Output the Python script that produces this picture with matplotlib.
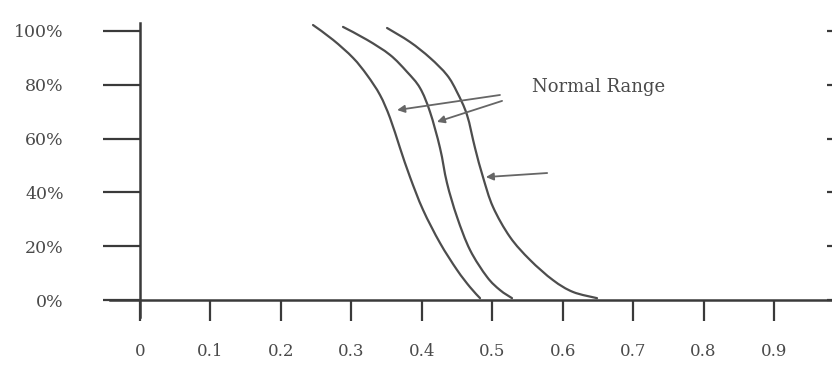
import matplotlib
matplotlib.use("Agg")
import matplotlib.pyplot as plt
from matplotlib.path import Path
from matplotlib.patches import PathPatch

# ---- data ----
x_ticks = [0, 0.1, 0.2, 0.3, 0.4, 0.5, 0.6, 0.7, 0.8, 0.9]
x_tick_labels = ["0", "0.1", "0.2", "0.3", "0.4", "0.5", "0.6", "0.7", "0.8", "0.9"]
y_ticks = [0, 20, 40, 60, 80, 100]
y_tick_labels = ["0%", "20%", "40%", "60%", "80%", "100%"]

curve1_x = [0.2456, 0.2740, 0.3024, 0.3223, 0.3407, 0.3549, 0.3691, 0.3833,
            0.4018, 0.4259, 0.4500, 0.4685, 0.4827]
curve1_y = [102.2, 96.7, 90.0, 83.6, 76.2, 67.7, 56.5, 45.7, 33.5, 21.2, 11.2, 4.8, 0.7]

curve2_x = [0.2882, 0.3223, 0.3549, 0.3790, 0.3975, 0.4117, 0.4259, 0.4358,
            0.4500, 0.4685, 0.4926, 0.5111, 0.5281]
curve2_y = [101.5, 96.7, 91.1, 84.8, 78.8, 69.9, 56.5, 43.5, 30.9, 18.6, 8.6, 3.7, 0.7]

curve3_x = [0.3507, 0.3833, 0.4117, 0.4358, 0.4500, 0.4642, 0.4756, 0.4869,
            0.5011, 0.5253, 0.5537, 0.5863, 0.6147, 0.6488]
curve3_y = [101.1, 95.9, 90.0, 83.6, 77.3, 68.8, 56.5, 45.7, 34.6, 23.4, 14.9, 7.4, 3.0, 0.7]

annotation_text = "Normal Range"

plt.rcParams["font.family"] = ["DejaVu Serif"]

fig = plt.figure(figsize=(8.32, 3.70), dpi=100)
ax = fig.add_axes([0, 0, 1, 1])
ax.set_xlim(-0.1988, 0.9824)
ax.set_ylim(-26.0, 111.5)

line_col = "#4d4d4d"
axis_col = "#3a3a3a"
text_col = "#4a4a4a"


def smooth_path(xs, ys):
    """Catmull-Rom spline through the read points, as cubic Bezier segments."""
    pts = list(zip(xs, ys))
    verts = [pts[0]]
    codes = [Path.MOVETO]
    n = len(pts)
    for i in range(n - 1):
        p0 = pts[i - 1] if i > 0 else pts[i]
        p1 = pts[i]
        p2 = pts[i + 1]
        p3 = pts[i + 2] if i + 2 < n else pts[i + 1]
        c1 = (p1[0] + (p2[0] - p0[0]) / 6.0, p1[1] + (p2[1] - p0[1]) / 6.0)
        c2 = (p2[0] - (p3[0] - p1[0]) / 6.0, p2[1] - (p3[1] - p1[1]) / 6.0)
        verts += [c1, c2, p2]
        codes += [Path.CURVE4] * 3
    return Path(verts, codes)


for xs, ys in [(curve1_x, curve1_y), (curve2_x, curve2_y), (curve3_x, curve3_y)]:
    ax.add_patch(PathPatch(smooth_path(xs, ys), facecolor="none",
                           edgecolor=line_col, lw=1.6, capstyle="round",
                           joinstyle="round"))

# spines
ax.spines["top"].set_visible(False)
ax.spines["left"].set_position(("data", 0))
ax.spines["bottom"].set_position(("data", 0))
ax.spines["left"].set_bounds(-6.3, 103)
ax.spines["bottom"].set_bounds(-0.043, 0.99)
for s in ["left", "bottom"]:
    ax.spines[s].set_color(axis_col)
    ax.spines[s].set_linewidth(1.8)
ax.spines["right"].set_visible(False)
ax.spines["right"].set_position(("axes", 0.9945))

ax.set_xticks(x_ticks)
ax.set_xticklabels(x_tick_labels)
ax.set_yticks(y_ticks)
ax.set_yticklabels(y_tick_labels)

ax.tick_params(axis="x", direction="out", length=15, width=1.6, color=axis_col,
               pad=16, labelsize=12, labelcolor=text_col)
ax.tick_params(axis="y", direction="out", length=27, width=1.6, color=axis_col,
               pad=28, labelsize=12.5, labelcolor=text_col, right=True)
for t in ax.yaxis.get_ticklabels():
    t.set_horizontalalignment("right")

# annotation
ax.text(0.5565, 79.2, annotation_text, ha="left", va="center", fontsize=13,
        color=text_col)
arrow_props = dict(arrowstyle="-|>", color="#666666", lw=1.3, mutation_scale=11,
                   shrinkA=0, shrinkB=0)
ax.annotate("", xy=(0.365, 70.6), xytext=(0.511, 76.2), arrowprops=arrow_props)
ax.annotate("", xy=(0.4216, 66.2), xytext=(0.514, 74.0), arrowprops=arrow_props)
ax.annotate("", xy=(0.491, 45.7), xytext=(0.578, 47.2), arrowprops=arrow_props)

fig.savefig("out.png", dpi=100, facecolor="white")
